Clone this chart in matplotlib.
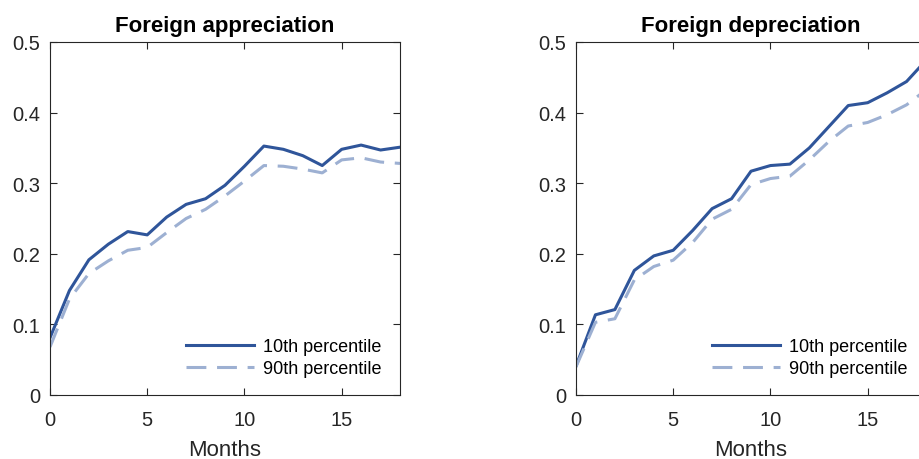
import matplotlib
matplotlib.use("Agg")
import matplotlib.pyplot as plt
import numpy as np

months = list(range(19))
app_p10 = [0.081, 0.148, 0.1915, 0.2136, 0.2315, 0.2268, 0.252, 0.270, 0.278, 0.297,
           0.324, 0.3526, 0.348, 0.339, 0.325, 0.348, 0.354, 0.347, 0.351]
app_p90 = [0.068, 0.136, 0.172, 0.190, 0.205, 0.209, 0.230, 0.250, 0.263, 0.282,
           0.303, 0.325, 0.324, 0.320, 0.3146, 0.333, 0.336, 0.330, 0.328]
dep_p10 = [0.041, 0.1136, 0.121, 0.1765, 0.197, 0.205, 0.233, 0.264, 0.278, 0.317,
           0.325, 0.327, 0.350, 0.380, 0.410, 0.414, 0.428, 0.444, 0.474]
dep_p90 = [0.040, 0.103, 0.108, 0.163, 0.182, 0.191, 0.216, 0.249, 0.263, 0.298,
           0.3066, 0.310, 0.333, 0.359, 0.381, 0.386, 0.397, 0.411, 0.432]

titles = ["Foreign appreciation", "Foreign depreciation"]
labels = ["10th percentile", "90th percentile"]
xticks = [0, 5, 10, 15]
yticks = [0, 0.1, 0.2, 0.3, 0.4, 0.5]
yticklabels = ["0", "0.1", "0.2", "0.3", "0.4", "0.5"]

dark = "#2F559A"
light = "#9DB0D2"

plt.rcParams['font.family'] = ['Liberation Sans', 'DejaVu Sans']

fig = plt.figure(figsize=(9.2, 4.6), dpi=100)
w = 350 / 920
h = (396 - 43) / 460
bottom = 1 - 396 / 460
ax1 = fig.add_axes([50 / 920, bottom, w, h])
ax2 = fig.add_axes([576 / 920, bottom, w, h])

for ax, title, p10, p90 in [(ax1, titles[0], app_p10, app_p90),
                            (ax2, titles[1], dep_p10, dep_p90)]:
    ax.plot(months, p10, color=dark, lw=2.2, label=labels[0])
    ax.plot(months, p90, color=light, lw=2.2, ls=(0, (6.5, 3.5)), label=labels[1])
    ax.set_xlim(0, 18)
    ax.set_ylim(0, 0.5)
    ax.set_xticks(xticks)
    ax.set_yticks(yticks)
    ax.set_yticklabels(yticklabels)
    ax.tick_params(direction='in', top=True, right=True, length=5, width=0.8,
                   labelsize=14.5, colors='#262626')
    ax.tick_params(axis='x', pad=11)
    ax.tick_params(axis='y', pad=7)
    for s in ax.spines.values():
        s.set_color('#262626')
        s.set_linewidth(0.8)
    ax.set_xlabel("Months", fontsize=16, color='#262626', labelpad=7)
    ax.set_title(title, fontsize=16, fontweight='bold', pad=8)
    ax.legend(loc='lower right', frameon=False, fontsize=13, handlelength=3.8,
              handletextpad=0.5, labelspacing=0.25, borderaxespad=0.6)

fig.savefig("out.png", dpi=100)
